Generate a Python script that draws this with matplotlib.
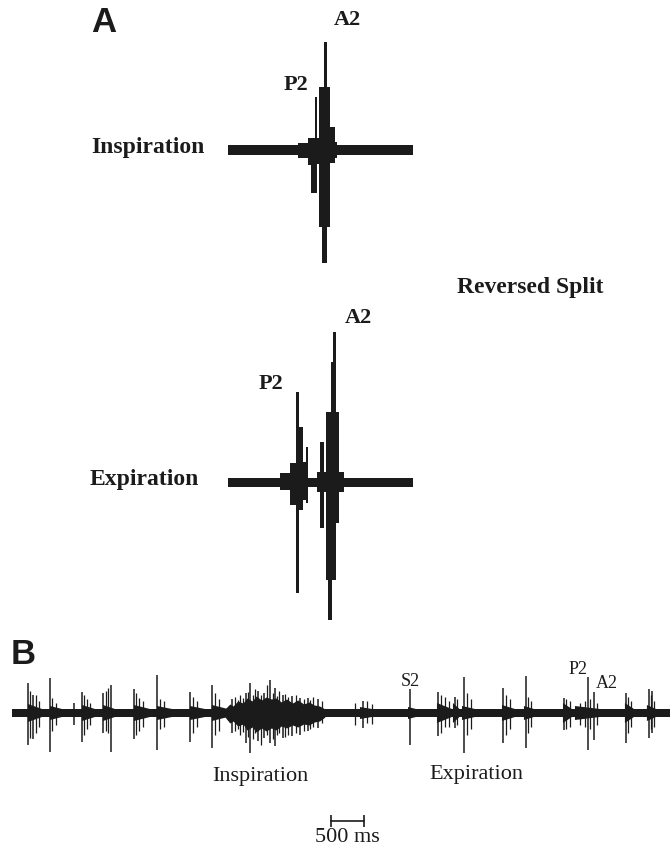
"""
Reversed splitting of S2: schematic (A) and phonocardiogram recording (B).
"""

import matplotlib
matplotlib.use("Agg")
import matplotlib.pyplot as plt

W, H = 670, 848
INK = "#1b1b1b"
SERIF = "Liberation Serif"
SANS = "Liberation Sans"

# ---- Panel A: schematic waveforms (t in a.u., amplitude in a.u. above baseline)
# each row is one block of the drawing: start, end, top, bottom
INSP_T0 = [0.0, 70.0, 80.0, 82.5, 86.7, 88.0, 91.3, 96.3, 94.0, 102.0, 107.0]
INSP_T1 = [184.5, 80.0, 85.0, 88.5, 89.3, 93.0, 102.0, 98.7, 99.0, 107.0, 109.0]
INSP_TOP = [4.7, 7.0, 12.0, 12.0, 53.5, 12.0, 63.0, 108.0, 0.0, 23.0, 8.0]
INSP_BOT = [-4.7, -8.0, -15.0, -43.0, -43.0, -14.0, -77.0, 0.0, -113.0, -13.0, -8.0]

EXP_T0 = [0.0, 52.0, 62.0, 68.3, 71.3, 75.3, 77.5, 88.7, 92.0, 98.0, 98.0, 100.3, 103.0, 105.3]
EXP_T1 = [184.5, 80.3, 68.7, 71.3, 75.3, 77.5, 80.3, 116.0, 96.0, 111.0, 108.0, 103.7, 108.0, 108.0]
EXP_TOP = [4.5, 9.0, 19.5, 90.0, 55.0, 20.0, 35.0, 10.5, 40.5, 70.0, 70.0, 0.0, 120.0, 150.0]
EXP_BOT = [-4.5, -8.0, -23.0, -111.0, -28.0, -18.0, -21.0, -10.0, -46.0, -41.0, -98.0, -138.0, 0.0, 0.0]

# ---- Panel B: recording (time in ms, amplitude in a.u.)
TRACE_END_MS = 9970
NOISE_AMP = 4.0

BURST_START = [242, 576, 1061, 1379, 1848, 2197, 2697, 3030, 5272, 6000, 6439,
               6681, 6818, 7424, 7757, 8348, 8530, 9287, 9620]
BURST_END = [455, 758, 1257, 1560, 2091, 2424, 2924, 3272, 5454, 6121, 6666,
             6780, 7015, 7621, 7908, 8484, 8908, 9424, 9757]
BURST_AMP = [9, 7, 8, 8, 8, 7, 7, 8, 6, 6, 10,
             10, 7, 8, 7, 10, 7, 10, 8]

# inspiratory segment: dense envelope
INSP_ENV_T = [3227, 3300, 3350, 3420, 3500, 3560, 3640, 3700, 3780, 3850, 3930,
              4000, 4080, 4160, 4250, 4330, 4420, 4500, 4580, 4660, 4742]
INSP_ENV_UP = [4, 9, 7, 12, 10, 15, 12, 17, 13, 16, 14, 15, 11, 14, 10, 13, 9, 11, 8, 7, 4]
INSP_ENV_DN = [4, 10, 8, 13, 11, 17, 14, 19, 15, 18, 15, 17, 13, 15, 12, 14, 11, 12, 9, 8, 4]

# main spikes (onsets of heart sounds)
SPIKE_T = [242, 318, 576, 939, 1061, 1379, 1500, 1848, 2197, 2697, 3030,
           3333, 3545, 3606, 3727, 3818, 3909, 3985, 4106, 4242, 4363, 4484, 4636,
           5318, 6030, 6454, 6712, 6848, 7439, 7787, 8363, 8727, 8818, 9302, 9651, 9696]
SPIKE_UP = [30, 18, 35, 10, 21, 20, 28, 24, 38, 21, 28,
            14, 20, 30, 22, 20, 33, 25, 18, 17, 15, 15, 14,
            12, 24, 21, 16, 36, 25, 37, 15, 36, 21, 20, 24, 22]
SPIKE_DOWN = [32, 26, 39, 12, 29, 20, 39, 26, 37, 29, 35,
              20, 30, 40, 28, 25, 30, 33, 25, 23, 22, 18, 15,
              15, 32, 23, 15, 40, 30, 35, 17, 37, 27, 30, 25, 20]

# smaller oscillations inside the bursts
SUB_T = [273, 364, 409, 606, 667, 1091, 1136, 1182, 1424, 1454, 1879, 1924, 1985,
         2242, 2303, 2742, 2803, 3075, 3136,
         3380, 3420, 3460, 3500, 3580, 3650, 3680, 3770, 3860, 3950, 4020, 4050,
         4140, 4180, 4300, 4420, 4520, 4560, 4690,
         5200, 5380, 5450, 6500, 6560, 6620, 6740, 6900, 6960, 7480, 7540, 7820, 7870,
         8400, 8450, 8600, 8680, 8760, 8860, 9330, 9380, 9680, 9720]
SUB_UP = [22, 18, 12, 15, 10, 18, 14, 10, 22, 25, 20, 15, 12,
          14, 12, 16, 12, 20, 14,
          16, 13, 18, 15, 21, 18, 24, 18, 28, 20, 17, 22,
          19, 16, 18, 14, 13, 16, 12,
          10, 12, 9, 18, 16, 12, 14, 20, 14, 18, 14, 16, 12,
          14, 12, 10, 12, 14, 10, 16, 12, 18, 12]
SUB_DOWN = [25, 20, 14, 18, 12, 22, 16, 12, 18, 20, 22, 18, 14,
            16, 14, 20, 14, 22, 18,
            18, 16, 22, 19, 24, 26, 20, 32, 22, 26, 22, 20,
            24, 22, 20, 18, 16, 14, 10,
            12, 10, 11, 20, 14, 14, 12, 22, 16, 22, 16, 20, 14,
            16, 14, 12, 14, 16, 12, 20, 14, 16, 14]

SCALE_START_MS = 4833
SCALE_MS = 500


def add_px_axes(fig, x0, y0, x1, y1):
    ax = fig.add_axes([x0 / W, 1 - y1 / H, (x1 - x0) / W, (y1 - y0) / H])
    ax.set_axis_off()
    return ax


def fig_text(fig, x, y, s, **kw):
    fig.text(x / W, 1 - y / H, s, **kw)


def draw_blocks(ax, t0, t1, top, bot):
    widths = [b - a for a, b in zip(t0, t1)]
    heights = [a - b for a, b in zip(top, bot)]
    ax.bar(t0, heights, width=widths, bottom=bot, align="edge",
           color=INK, linewidth=0)


fig = plt.figure(figsize=(W / 100, H / 100), dpi=100)
fig.patch.set_facecolor("white")

# ---- Panel A
ax_in = add_px_axes(fig, 228, 30, 413, 270)
draw_blocks(ax_in, INSP_T0, INSP_T1, INSP_TOP, INSP_BOT)
ax_in.set_xlim(0, 185)
ax_in.set_ylim(-120, 120)

ax_ex = add_px_axes(fig, 228, 322, 413, 642)
draw_blocks(ax_ex, EXP_T0, EXP_T1, EXP_TOP, EXP_BOT)
ax_ex.set_xlim(0, 185)
ax_ex.set_ylim(-160, 160)

bold = dict(family=SERIF, fontweight="bold", color=INK, ha="center", va="center")
fig_text(fig, 104, 23, "A", family=SANS, fontweight="bold", fontsize=25,
         color=INK, ha="center", va="center")
fig_text(fig, 347, 20, "A2", fontsize=16, **bold)
fig_text(fig, 296, 85, "P2", fontsize=16, **bold)
fig_text(fig, 148, 147, "Inspiration", fontsize=17, **bold)
fig_text(fig, 530, 287, "Reversed Split", fontsize=17, **bold)
fig_text(fig, 358, 318, "A2", fontsize=16, **bold)
fig_text(fig, 271, 384, "P2", fontsize=16, **bold)
fig_text(fig, 144, 480, "Expiration", fontsize=17, **bold)

# ---- Panel B
ax_b = add_px_axes(fig, 12, 663, 670, 763)
ax_b.set_xlim(0, TRACE_END_MS)
ax_b.set_ylim(-50, 50)

ax_b.fill_between([0, TRACE_END_MS], [NOISE_AMP, NOISE_AMP],
                  [-NOISE_AMP, -NOISE_AMP], color=INK, linewidth=0)
for t0, t1, a in zip(BURST_START, BURST_END, BURST_AMP):
    ax_b.fill([t0, t0, t1, t1], [-a, a, NOISE_AMP, -NOISE_AMP],
              color=INK, linewidth=0)
ax_b.fill_between(INSP_ENV_T, INSP_ENV_UP, [-a for a in INSP_ENV_DN],
                  color=INK, linewidth=0)
ax_b.vlines(SUB_T, [-d for d in SUB_DOWN], SUB_UP, color=INK, linewidth=0.9)
ax_b.vlines(SPIKE_T, [-d for d in SPIKE_DOWN], SPIKE_UP, color=INK, linewidth=1.1)

fig_text(fig, 23, 655, "B", family=SANS, fontweight="bold", fontsize=25,
         color=INK, ha="center", va="center")

reg = dict(family=SERIF, color=INK, ha="center", va="center", clip_on=False)
ax_b.text(6030, 31.5, "S2", fontsize=13, **reg)
ax_b.text(8580, 43.5, "P2", fontsize=13, **reg)
ax_b.text(9014, 29, "A2", fontsize=13, **reg)
ax_b.text(3765, -63, "Inspiration", fontsize=16, **reg)
ax_b.text(7037, -62, "Expiration", fontsize=16, **reg)

# scale bar
ax_b.plot([SCALE_START_MS, SCALE_START_MS + SCALE_MS], [-108, -108],
          color=INK, linewidth=1.2, marker="|", markersize=8,
          markeredgewidth=1.2, clip_on=False)
ax_b.text(SCALE_START_MS + SCALE_MS / 2, -124, f"{SCALE_MS} ms", fontsize=16, **reg)

fig.savefig("out.png", dpi=100, facecolor="white")
